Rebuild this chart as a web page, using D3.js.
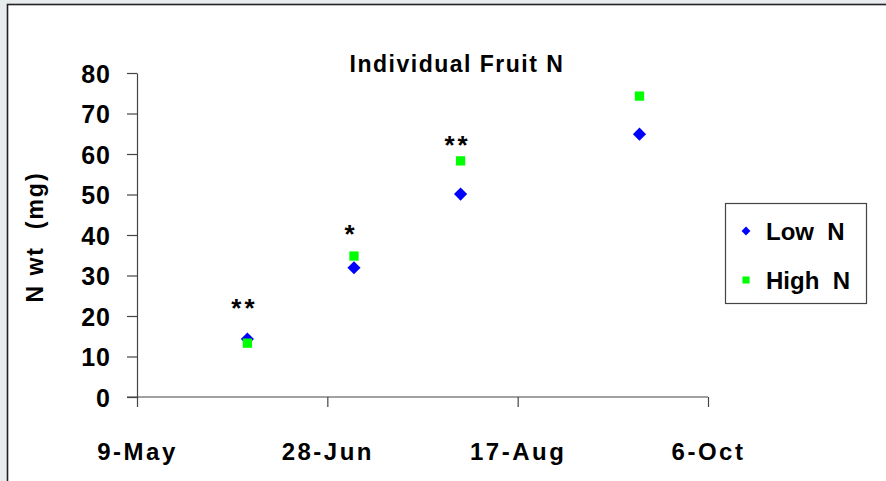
<!DOCTYPE html>
<html>
<head>
<meta charset="utf-8">
<script src="https://cdn.jsdelivr.net/npm/d3@7"></script>
<style>
  html, body { margin: 0; padding: 0; background: #e8ecec; }
  svg { display: block; }
  text { font-family: "Liberation Sans", Arial, sans-serif; fill: #000; }
</style>
</head>
<body>
<svg id="chart"></svg>
<script>
// sample dates and fruit N (mg)
var sampleDates = ["2003-06-07", "2003-07-05", "2003-08-02", "2003-09-18"];
var lowN  = [14.3, 31.9, 50.1, 64.9];
var highN = [13.3, 34.8, 58.3, 74.3];
// significance marks and the height (mg) they sit at
var sigMarks = ["**", "*", "**", ""];
var sigAt    = [23.2, 41.5, 63.5, 0];

var xTicks = ["2003-05-09", "2003-06-28", "2003-08-17", "2003-10-06"];
var yTicks = [0, 10, 20, 30, 40, 50, 60, 70, 80];
var seriesNames = ["Low  N", "High  N"];

var width = 886, height = 481;
var parse = d3.timeParse("%Y-%m-%d");
var fmt = d3.timeFormat("%-d-%b");

var svg = d3.select("#chart")
  .attr("width", width)
  .attr("height", height);

// white chart area with dark frame
svg.append("rect")
  .attr("x", 7.5).attr("y", 4.5)
  .attr("width", width + 10).attr("height", height + 10)
  .attr("fill", "#fff")
  .attr("stroke", "#222")
  .attr("stroke-width", 1.6);

var xScale = d3.scaleTime()
  .domain([parse(xTicks[0]), parse(xTicks[3])])
  .range([137, 708]);

var yScale = d3.scaleLinear()
  .domain([0, 80])
  .range([397, 73]);

// title
svg.append("text")
  .attr("x", 457)
  .attr("y", 72)
  .attr("text-anchor", "middle")
  .style("font-size", "23px")
  .style("font-weight", "bold")
  .style("letter-spacing", "1.5px")
  .text("Individual Fruit N");

// y axis
var yAxis = d3.axisLeft(yScale)
  .tickValues(yTicks)
  .tickSize(10)
  .tickSizeOuter(0)
  .tickPadding(16);

var yg = svg.append("g")
  .attr("transform", "translate(137,0)")
  .call(yAxis);
yg.selectAll("path, line").attr("stroke", "#444").attr("stroke-width", 1.2);
yg.selectAll("text")
  .attr("font-family", null)
  .style("font-size", "25px")
  .style("font-weight", "bold")
  .style("letter-spacing", "1px")
  .attr("dy", "0.36em");

// x axis
var xAxis = d3.axisBottom(xScale)
  .tickValues(xTicks.map(parse))
  .tickFormat(fmt)
  .tickSize(10)
  .tickSizeOuter(0);

var xg = svg.append("g")
  .attr("transform", "translate(0,397)")
  .call(xAxis);
xg.selectAll("path, line").attr("stroke", "#444").attr("stroke-width", 1.2);
// extend axis line to the left so it meets the 0 tick
xg.select("path.domain").attr("d", "M127,0H708");
xg.selectAll("text")
  .attr("y", 63)
  .attr("dy", 0)
  .style("font-size", "24px")
  .style("font-weight", "bold")
  .style("letter-spacing", "2.5px");

// y axis title
svg.append("text")
  .attr("transform", "translate(43,237) rotate(-90)")
  .attr("text-anchor", "middle")
  .style("font-size", "23px")
  .style("font-weight", "bold")
  .style("letter-spacing", "2px")
  .style("white-space", "pre")
  .text("N wt  (mg)");

var dates = sampleDates.map(parse);

var diamond = d3.symbol().type(d3.symbolDiamond2);
var square = d3.symbol().type(d3.symbolSquare2);

// Low N diamonds
svg.append("g").selectAll("path")
  .data(lowN)
  .enter().append("path")
  .attr("d", diamond.size(110)())
  .attr("transform", (d, i) => "translate(" + xScale(dates[i]) + "," + yScale(d) + ")")
  .attr("fill", "#0000ff");

// High N squares
svg.append("g").selectAll("path")
  .data(highN)
  .enter().append("path")
  .attr("d", square.size(110)())
  .attr("transform", (d, i) => "translate(" + xScale(dates[i]) + "," + yScale(d) + ")")
  .attr("fill", "#00ff00");

// significance stars
svg.append("g").selectAll("text")
  .data(sigMarks)
  .enter().append("text")
  .attr("x", (d, i) => xScale(dates[i]) - 3)
  .attr("y", (d, i) => yScale(sigAt[i]) + 14)
  .attr("text-anchor", "middle")
  .style("font-size", "26px")
  .style("font-weight", "bold")
  .style("letter-spacing", "3px")
  .text(d => d);

// legend
var legend = svg.append("g");
legend.append("rect")
  .attr("x", 725.5).attr("y", 203.5)
  .attr("width", 141).attr("height", 100)
  .attr("fill", "#fff")
  .attr("stroke", "#444")
  .attr("stroke-width", 1.2);

var legendRows = [
  { name: seriesNames[0], sym: diamond.size(50)(), color: "#0000ff", y: 231 },
  { name: seriesNames[1], sym: square.size(64)(), color: "#00ff00", y: 280 }
];
legendRows.forEach(function (r) {
  legend.append("path")
    .attr("d", r.sym)
    .attr("transform", "translate(746," + r.y + ")")
    .attr("fill", r.color);
  legend.append("text")
    .attr("x", 766)
    .attr("y", r.y + 9)
    .style("font-size", "24px")
    .style("font-weight", "bold")
    .style("white-space", "pre")
    .text(r.name);
});
</script>
</body>
</html>
